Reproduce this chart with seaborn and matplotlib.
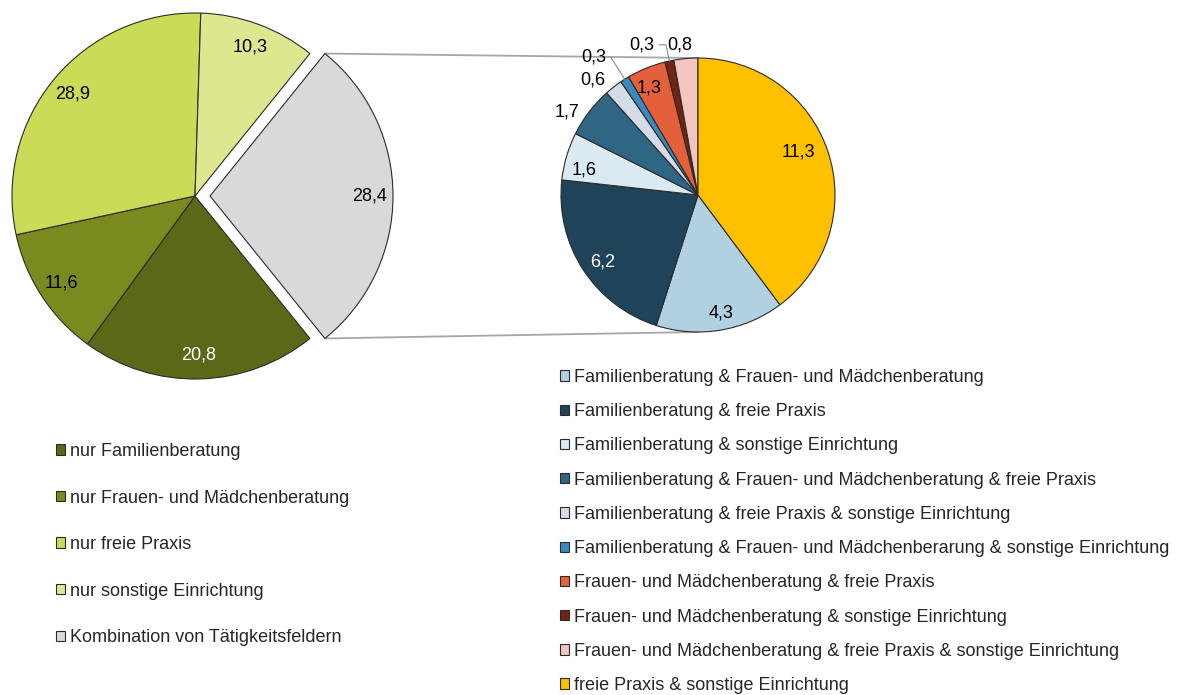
import numpy as np
import matplotlib
matplotlib.use("Agg")
import matplotlib.pyplot as plt
import seaborn as sns

# main pie: share of activity fields (%)
outer_labels = ["nur Familienberatung",
                "nur Frauen- und Mädchenberatung",
                "nur freie Praxis",
                "nur sonstige Einrichtung",
                "Kombination von Tätigkeitsfeldern"]
outer_values = [20.8, 11.6, 28.9, 10.3, 28.4]

# breakdown of the combination slice (%)
combo_labels = ["Familienberatung & Frauen- und Mädchenberatung",
                "Familienberatung & freie Praxis",
                "Familienberatung & sonstige Einrichtung",
                "Familienberatung & Frauen- und Mädchenberatung & freie Praxis",
                "Familienberatung & freie Praxis & sonstige Einrichtung",
                "Familienberatung & Frauen- und Mädchenberarung & sonstige Einrichtung",
                "Frauen- und Mädchenberatung & freie Praxis",
                "Frauen- und Mädchenberatung & sonstige Einrichtung",
                "Frauen- und Mädchenberatung & freie Praxis & sonstige Einrichtung",
                "freie Praxis & sonstige Einrichtung"]
combo_values = [4.3, 6.2, 1.6, 1.7, 0.6, 0.3, 1.3, 0.3, 0.8, 11.3]

# styling
outer_colors = ["#5c6717", "#7b8a1f", "#cbdb57", "#dde790", "#d9d9d9"]
outer_text = ["white", "black", "black", "black", "black"]
combo_colors = ["#b1d0e2", "#1f4359", "#dbe9f2", "#2f6684", "#d3dce7",
                "#3a89bf", "#e3603a", "#6f2511", "#f3c5be", "#ffc000"]
combo_text = ["black", "white", "black", "black", "black",
              "black", "black", "black", "black", "black"]
combo_lr = [0.88, 0.85, 0.85, 1.13, 1.14, 1.26, 0.86, 1.17, 1.10, 0.80]
combo_dang = [1.5, 2, 4, 5, 4.3, 4.8, 2.3, 8.4, 1.7, 4.7]
combo_leader = [False, False, False, False, False, True, False, True, False, False]

sns.set_theme(style="white")
plt.rcParams['font.family'] = ['Liberation Sans', 'DejaVu Sans']
FS = 13


def fmt(v):
    return f"{v:.1f}".replace('.', ',')


W, H = 1184, 695
fig = plt.figure(figsize=(W / 100, H / 100), dpi=100)
ax = fig.add_axes([0, 0, 1, 1])

edge = dict(edgecolor="#2b2b2b", linewidth=0.8)

# left pie
r1 = 183
c1 = (195, H - 196)
total1 = sum(outer_values)
wedges1, _ = ax.pie(outer_values, colors=outer_colors, center=c1, radius=r1,
                    startangle=-180 * outer_values[-1] / total1, counterclock=False,
                    explode=[0, 0, 0, 0, r1 * 0.082], wedgeprops=edge, frame=True)
for w, v, tc in zip(wedges1, outer_values, outer_text):
    mid = np.deg2rad((w.theta1 + w.theta2) / 2)
    cx, cy = w.center
    ax.text(cx + 0.87 * r1 * np.cos(mid), cy + 0.87 * r1 * np.sin(mid), fmt(v),
            ha="center", va="center", color=tc, fontsize=FS)

# right pie
r2 = 137
c2 = (698, H - 195)
total2 = sum(combo_values)
wedges2, _ = ax.pie(combo_values, colors=combo_colors, center=c2, radius=r2,
                    startangle=90 - 360 * combo_values[-1] / total2, counterclock=False,
                    wedgeprops=edge, frame=True)
for i, (w, v) in enumerate(zip(wedges2, combo_values)):
    mid = (w.theta1 + w.theta2) / 2
    ang = np.deg2rad(mid + combo_dang[i])
    pos = (c2[0] + combo_lr[i] * r2 * np.cos(ang), c2[1] + combo_lr[i] * r2 * np.sin(ang))
    if combo_leader[i]:
        tip = (c2[0] + r2 * np.cos(np.deg2rad(mid)), c2[1] + r2 * np.sin(np.deg2rad(mid)))
        ax.annotate(fmt(v), xy=tip, xytext=pos, ha="center", va="center",
                    fontsize=FS, color=combo_text[i],
                    arrowprops=dict(arrowstyle="-", color="#8c8c8c", lw=0.8,
                                    relpos=(1.0, 0.5), shrinkA=1, shrinkB=0,
                                    connectionstyle=f"angle,angleA=0,angleB={mid},rad=0"))
    else:
        ax.text(pos[0], pos[1], fmt(v), ha="center", va="center",
                fontsize=FS, color=combo_text[i])

# connector lines between the exploded slice and the breakdown pie
gw = wedges1[-1]
gx, gy = gw.center
for th, sgn in ((max(gw.theta1, gw.theta2), 1), (min(gw.theta1, gw.theta2), -1)):
    t = np.deg2rad(th)
    ax.plot([gx + r1 * np.cos(t), c2[0]], [gy + r1 * np.sin(t), c2[1] + sgn * r2],
            color="#a6a6a6", lw=1.3, zorder=0)

# legends
leg1 = ax.legend(wedges1, outer_labels, loc="upper left",
                 bbox_to_anchor=(56, H - 443), bbox_transform=ax.transData,
                 frameon=False, fontsize=FS, handlelength=0.5, handleheight=0.5,
                 handletextpad=0.25, labelspacing=1.635, borderpad=0, borderaxespad=0)
ax.add_artist(leg1)
ax.legend(wedges2, combo_labels, loc="upper left",
          bbox_to_anchor=(560, H - 369), bbox_transform=ax.transData,
          frameon=False, fontsize=FS, handlelength=0.5, handleheight=0.5,
          handletextpad=0.25, labelspacing=0.954, borderpad=0, borderaxespad=0)

ax.set_xlim(0, W)
ax.set_ylim(0, H)
ax.set_aspect("equal")
ax.axis("off")

fig.savefig("out.png", dpi=100, facecolor="white")
